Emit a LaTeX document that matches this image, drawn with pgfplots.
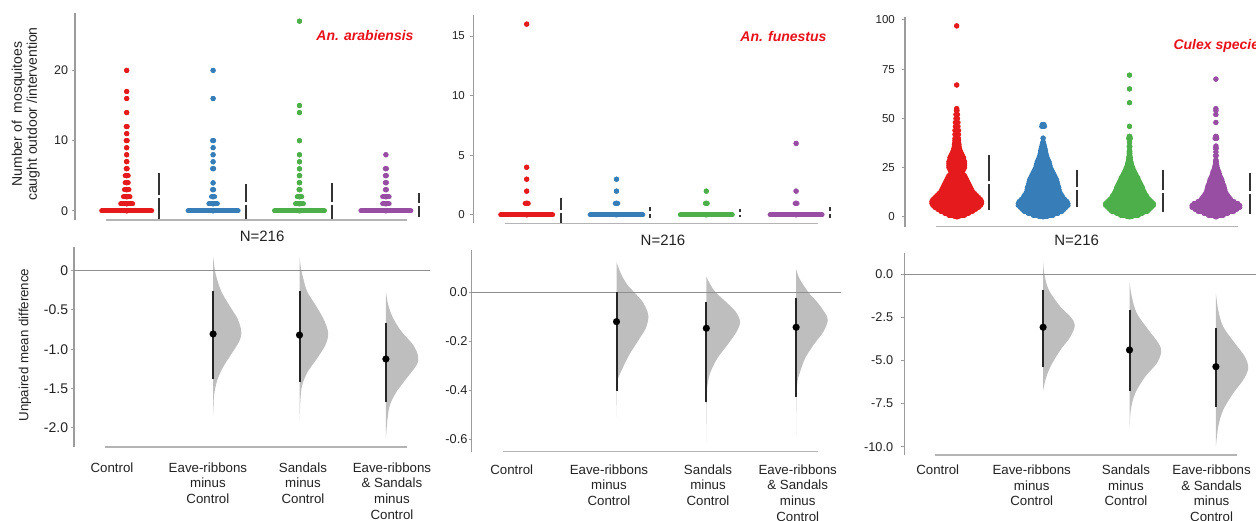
\documentclass[border=0pt]{standalone}
\usepackage{fontspec}
\setmainfont{Liberation Sans}
\usepackage{pgfplots}
\pgfplotsset{compat=1.18}
\usepackage{pgfplotstable}

\definecolor{cred}{HTML}{E41A1C}
\definecolor{cblue}{HTML}{377EB8}
\definecolor{cgreen}{HTML}{4DAF4A}
\definecolor{cpurple}{HTML}{984EA3}
\definecolor{violin}{HTML}{BEBEBE}
\definecolor{axisgray}{HTML}{9C9C9C}
\definecolor{linegray}{HTML}{B4B4B4}
\definecolor{zerogray}{HTML}{8E8E8E}
\definecolor{sdgray}{HTML}{333333}
\definecolor{titlered}{HTML}{E8111B}
\definecolor{txt}{HTML}{222222}

% ---------- swarm rows: value y, half-width w (px) ----------
\pgfplotstableread{
y w
0 25
1 6
2 3.3
3 2.3
4 1.6
5 1.6
6 0.6
7 0.3
8 0
9 0
10 0.6
11 0
12 0.6
14 0
16 0
17 0
20 0
}\sAr
\pgfplotstableread{
y w
0 25
1 4.3
2 1.6
3 0.6
4 0
6 0.6
7 0
8 0
9 0
10 0.6
16 0
20 0
}\sAb
\pgfplotstableread{
y w
0 25
1 4
2 2.3
3 0.6
4 0.3
5 0.3
6 0
7 0
8 0
10 0
14 0
15 0
27 0
}\sAg
\pgfplotstableread{
y w
0 25
1 3.3
2 3.3
3 0.6
4 0.6
5 0.6
6 0.6
8 0
}\sAp
\pgfplotstableread{
y w
0 26
1 1.6
2 0
3 0
4 0
16 0
}\sBr
\pgfplotstableread{
y w
0 26.3
1 1.3
2 0
3 0
}\sBb
\pgfplotstableread{
y w
0 26
1 1
2 0
}\sBg
\pgfplotstableread{
y w
0 26
1 1
2 0
6 0
}\sBp
\pgfplotstableread{
y w
0 2
1 8
2 12
3 16
4 19
5 22
6 24
7 25
8 25
9 24
10 22
11 20
12 18
13 16
14 15
15 14
16 13
17 12
18 11
19 10
20 9
21 8
22 6
23 6
24 7
25 8
26 8
27 8
28 8
29 7
30 7
31 6
32 5
33 4
34 3.5
35 3
36 2.5
37 2.5
38 2
39 2
40 2
42 2
44 2
46 1.5
48 1.5
50 1
52 1
54 0.5
55 0
67 0
97 0
}\sCr
\pgfplotstableread{
y w
0 4
1 10
2 15
3 19
4 21
5 23
6 25
7 25
8 24
9 22
10 20
11 19
12 17.5
13 16.5
14 16
15 15.8
16 15
17 14.5
18 14
19 13.5
20 12.5
21 11.5
22 10.5
23 9.5
24 8.5
25 7.5
26 7
27 6.5
28 6
29 5
30 4.2
31 3.5
32 3
33 2.5
34 2.5
35 2
36 1.5
37 1
38 0.5
40 0
46 1.5
47 1
}\sCb
\pgfplotstableread{
y w
0 2.5
1 9
2 13
3 18
4 20
5 22
6 24
7 24
8 22
9 20
10 18
11 17
12 15.5
13 14.5
14 13.5
15 13
16 12
17 11
18 10
19 9
20 8.3
21 7
22 6
23 5
24 4
25 3.3
26 2.5
27 2
28 1.5
29 1
30 1
31 0.5
32 0.5
33 0.5
34 0
36 0.5
38 0
40 1
41 0.5
46 0
58 0
65 0
72 0
}\sCg
\pgfplotstableread{
y w
0 1
1 7.5
2 12
3 18
4 21
5 24
6 24
7 22
8 18
9 15
10 13.5
11 12
12 10.5
13 9.5
14 9
15 8.5
16 8
17 7
18 6.5
19 6
20 5
21 4
22 3.5
23 3
24 2
25 1.5
26 1
27 0.5
28 0.5
29 0
31 0.5
33 0
35 0.5
36 0
40 1
41 0.5
48 0
52 0
54 0
55 0
70 0
}\sCp

% ---------- bootstrap distributions (half violins): y, width w (px) ----------
\pgfplotstableread{
y w
0.178 0
0.10 0.8
0.009 1.7
-0.097 3.7
-0.267 8.3
-0.437 16
-0.607 24.3
-0.734 27.7
-0.798 28.3
-0.904 26
-1.074 17.7
-1.244 9.3
-1.414 3.7
-1.583 1
-1.70 0.5
-1.838 0
}\vAa
\pgfplotstableread{
y w
0.178 0
0.009 1.7
-0.097 3.7
-0.267 7.7
-0.437 16
-0.607 23.7
-0.734 27.7
-0.819 28.7
-0.946 26
-1.116 17.7
-1.286 8.3
-1.456 2.7
-1.626 1
-1.75 0.5
-1.902 0
}\vAb
\pgfplotstableread{
y w
-0.267 0
-0.437 2.3
-0.607 7.3
-0.777 15.7
-0.946 27.3
-1.095 32.3
-1.201 30.7
-1.371 20.7
-1.541 10.7
-1.711 4
-1.880 1.7
-2.0 0.8
-2.135 0
}\vAc
\pgfplotstableread{
y w
0.125 0
0.112 1
0.071 5
0.030 11
0 17.7
-0.038 26
-0.079 31
-0.100 32
-0.147 29.3
-0.202 21
-0.256 12.7
-0.311 6
-0.352 1.7
-0.393 0.6
-0.45 0.3
-0.509 0
}\vBa
\pgfplotstableread{
y w
0.064 0
0.030 4.3
0 9.3
-0.038 19.3
-0.079 29.3
-0.120 33.7
-0.161 30.3
-0.216 21
-0.270 11
-0.325 4.3
-0.366 1.7
-0.407 0.7
-0.5 0.3
-0.611 0
}\vBb
\pgfplotstableread{
y w
0.095 0
0.057 3.3
0 12.3
-0.038 20.7
-0.079 28
-0.113 31.7
-0.161 27.3
-0.216 17.3
-0.270 9
-0.325 4
-0.366 1.3
-0.434 0.3
-0.584 0
}\vBc
\pgfplotstableread{
y w
0.73 0
0 1.3
-0.91 5.7
-1.88 17.3
-2.46 27.3
-2.94 31.7
-3.62 27.3
-4.39 17.3
-5.36 7.3
-6.13 2.3
-6.75 0
}\vCa
\pgfplotstableread{
y w
-0.43 0
-1.30 2.3
-2.26 7.3
-3.23 19
-4.00 29
-4.49 31.7
-5.16 27.3
-5.94 15.7
-6.90 5.7
-7.87 1.3
-9.03 0
}\vCb
\pgfplotstableread{
y w
-1.10 0
-2.07 2.3
-3.04 7.3
-4.00 19
-4.78 29
-5.45 32.3
-6.13 27.3
-6.90 17.3
-7.87 7.3
-8.84 2.3
-10.0 0
}\vCc

% ---------- mean differences with 95% CI ----------
\pgfplotstableread{
k m lo hi
1 -0.806 -1.380 -0.255
2 -0.820 -1.414 -0.255
3 -1.125 -1.669 -0.670
}\eA
\pgfplotstableread{
k m lo hi
1 -0.120 -0.404 0.000
2 -0.147 -0.447 -0.041
3 -0.143 -0.427 -0.025
}\eB
\pgfplotstableread{
k m lo hi
1 -3.07 -5.39 -0.91
2 -4.39 -6.75 -2.07
3 -5.36 -7.71 -3.13
}\eC

\pgfplotsset{
  base/.style={scale only axis, clip=false, enlargelimits=false,
    anchor=south west,
    /pgf/number format/assume math mode=true,
    axis x line*=bottom, axis y line*=left,
    x axis line style={draw=none},
    y axis line style={draw=axisgray, line width=1.3pt},
    tick align=outside, major tick length=3pt,
    ytick style={draw=axisgray, line width=1pt},
    xtick style={draw=none},
    tick label style={text=txt},
    yticklabel style={inner sep=0pt, anchor=east},
    xticklabel style={align=center, anchor=north, inner sep=0pt}},
  swarm/.style={only marks, mark=*, mark size=2.5pt, color=#1,
    mark options={solid, fill=#1, draw=#1, line width=0.01pt},
    error bars/.cd, x dir=both, x explicit, error mark=none,
    error bar style={line width=5pt, line cap=round, color=#1}},
  effect/.style={only marks, mark=*, mark size=3.5pt, color=black,
    mark options={solid, fill=black, draw=black, line width=0.01pt},
    error bars/.cd, y dir=both, y explicit, error mark=none,
    error bar style={line width=2pt, color=black!85}},
  sdbar/.style={sdgray, line width=2pt, unbounded coords=jump, mark=none},
  vio/.style={fill=violin, draw=none, smooth, tension=0.55, mark=none},
}
\newcommand{\fs}[2]{\fontsize{#1}{#2}\selectfont}
\def\labs{Control,{Eave-ribbons\\minus\\Control},{Sandals\\minus\\Control},{Eave-ribbons\\\& Sandals\\minus\\Control}}

\begin{document}
\begin{tikzpicture}[x=1pt,y=1pt]
\useasboundingbox (0,0) rectangle (1256,521);

% =================== column 1 : An. arabiensis ===================
\begin{axis}[base, at={(75pt,301pt)}, width=357pt, height=207pt,
  xmin=-0.5984, xmax=3.5336, ymin=-1.280, ymax=28.165,
  xtick=\empty, ytick={0,10,20}, yticklabels={0,10,20},
  yticklabel style={font=\fs{12.5}{14}, xshift=-3.7pt}]
\addplot[swarm=cred] table[x expr=0, y=y, x error expr=\thisrow{w}/86.4]{\sAr};
\addplot[swarm=cblue] table[x expr=1, y=y, x error expr=\thisrow{w}/86.4]{\sAb};
\addplot[swarm=cgreen] table[x expr=2, y=y, x error expr=\thisrow{w}/86.4]{\sAg};
\addplot[swarm=cpurple] table[x expr=3, y=y, x error expr=\thisrow{w}/86.4]{\sAp};
\addplot[sdbar] coordinates {(0.377,-1.28) (0.377,1.82) (0.377,nan) (0.377,2.24) (0.377,5.36) (0.377,nan)
  (1.377,-1.28) (1.377,0.79) (1.377,nan) (1.377,1.21) (1.377,3.84) (1.377,nan)
  (2.380,-1.28) (2.380,0.79) (2.380,nan) (2.380,1.21) (2.380,4.03) (2.380,nan)
  (3.383,-0.80) (3.383,0.69) (3.383,nan) (3.383,1.11) (3.383,2.50)};
\draw[linegray, line width=1.3pt] (axis cs:-0.240,-1.280) -- (axis cs:3.244,-1.280);
\node[anchor=east, text=titlered, font=\fs{14}{16}\bfseries\itshape] at (rel axis cs:0.958,0.889) {An. arabiensis};
\node[text=txt, font=\fs{15}{17}] at (rel axis cs:0.524,-0.077) {N=216};
\node[rotate=90, align=center, text=txt, font=\fs{14}{15}] at (rel axis cs:-0.138,0.512) {Number of~ mosquitoes\\caught outdoor /intervention};
\end{axis}

\begin{axis}[base, at={(74pt,74pt)}, width=358pt, height=200pt,
  xmin=-0.6100, xmax=3.5336, ymin=-2.2459, ymax=0.3019,
  xtick={-0.17,0.94,2.04,3.07}, xticklabels/.expanded=\labs,
  xticklabel style={font=\fs{13.3}{15.7}, yshift=-12.2pt},
  ytick={-2,-1.5,-1,-0.5,0}, yticklabels={-2.0,-1.5,-1.0,-0.5,0},
  yticklabel style={font=\fs{14}{16}, xshift=-2.7pt}]
\addplot[vio] table[x expr=1+\thisrow{w}/86.4, y=y]{\vAa};
\addplot[vio] table[x expr=2+\thisrow{w}/86.4, y=y]{\vAb};
\addplot[vio] table[x expr=3+\thisrow{w}/86.4, y=y]{\vAc};
\draw[zerogray, line width=1.3pt] (axis cs:-0.6100,0) -- (axis cs:3.510,0);
\addplot[effect] table[x=k, y=m, y error plus expr=\thisrow{hi}-\thisrow{m}, y error minus expr=\thisrow{m}-\thisrow{lo}]{\eA};
\draw[linegray, line width=1.3pt] (axis cs:-0.251,-2.2459) -- (axis cs:3.244,-2.2459);
\node[rotate=90, text=txt, font=\fs{13.3}{15}] at (rel axis cs:-0.1369,0.51) {Unpaired mean difference};
\end{axis}

% =================== column 2 : An. funestus ===================
\begin{axis}[base, at={(473.3pt,297.7pt)}, width=368.7pt, height=208.3pt,
  xmin=-0.5947, xmax=3.5111, ymin=-0.6957, ymax=16.764,
  xtick=\empty, ytick={0,5,10,15}, yticklabels={0,5,10,15},
  yticklabel style={font=\fs{11.5}{13}, xshift=-5.3pt}]
\addplot[swarm=cred] table[x expr=0, y=y, x error expr=\thisrow{w}/89.8]{\sBr};
\addplot[swarm=cblue] table[x expr=1, y=y, x error expr=\thisrow{w}/89.8]{\sBb};
\addplot[swarm=cgreen] table[x expr=2, y=y, x error expr=\thisrow{w}/89.8]{\sBg};
\addplot[swarm=cpurple] table[x expr=3, y=y, x error expr=\thisrow{w}/89.8]{\sBp};
\addplot[sdbar] coordinates {(0.379,-0.6957) (0.379,0.154) (0.379,nan) (0.379,0.406) (0.379,1.40) (0.379,nan)
  (1.373,-0.28) (1.373,0.064) (1.373,nan) (1.373,0.316) (1.373,0.65) (1.373,nan)
  (2.375,-0.19) (2.375,0.004) (2.375,nan) (2.375,0.256) (2.375,0.48) (2.375,nan)
  (3.378,-0.28) (3.378,0.064) (3.378,nan) (3.378,0.316) (3.378,0.65)};
\draw[linegray, line width=1.3pt] (axis cs:-0.242,-0.6957) -- (axis cs:3.244,-0.6957);
\node[anchor=east, text=titlered, font=\fs{14}{16}\bfseries\itshape] at (rel axis cs:0.9675,0.899) {An. funestus};
\node[text=txt, font=\fs{15}{17}] at (rel axis cs:0.5145,-0.080) {N=216};
\end{axis}

\begin{axis}[base, at={(471.7pt,69.3pt)}, width=370.3pt, height=201.7pt,
  xmin=-0.6125, xmax=3.5111, ymin=-0.6519, ymax=0.1730,
  xtick={-0.167,0.916,2.019,3.018}, xticklabels/.expanded=\labs,
  xticklabel style={font=\fs{13.3}{15.7}, yshift=-9.5pt},
  ytick={-0.6,-0.4,-0.2,0}, yticklabels={-0.6,-0.4,-0.2,0.0},
  yticklabel style={font=\fs{12.8}{15}, xshift=-1pt}]
\addplot[vio] table[x expr=1+\thisrow{w}/89.8, y=y]{\vBa};
\addplot[vio] table[x expr=2+\thisrow{w}/89.8, y=y]{\vBb};
\addplot[vio] table[x expr=3+\thisrow{w}/89.8, y=y]{\vBc};
\draw[zerogray, line width=1.3pt] (axis cs:-0.6125,0) -- (axis cs:3.497,0);
\addplot[effect] table[x=k, y=m, y error plus expr=\thisrow{hi}-\thisrow{m}, y error minus expr=\thisrow{m}-\thisrow{lo}]{\eB};
\draw[linegray, line width=1.3pt] (axis cs:-0.264,-0.6519) -- (axis cs:3.244,-0.6519);
\end{axis}

% =================== column 3 : Culex species ===================
\begin{axis}[base, at={(905pt,294.3pt)}, width=351pt, height=210pt,
  xmin=-0.5984, xmax=3.4641, ymin=-4.924, ymax=101.675,
  xtick=\empty, ytick={0,25,50,75,100}, yticklabels={0,25,50,75,100},
  yticklabel style={font=\fs{11.5}{13}, xshift=-7pt}]
\addplot[swarm=cred] table[x expr=0, y=y, x error expr=\thisrow{w}/86.4]{\sCr};
\addplot[swarm=cblue] table[x expr=1, y=y, x error expr=\thisrow{w}/86.4]{\sCb};
\addplot[swarm=cgreen] table[x expr=2, y=y, x error expr=\thisrow{w}/86.4]{\sCg};
\addplot[swarm=cpurple] table[x expr=3, y=y, x error expr=\thisrow{w}/86.4]{\sCp};
\addplot[sdbar] coordinates {(0.377,3.55) (0.377,16.64) (0.377,nan) (0.377,18.16) (0.377,31.5) (0.377,nan)
  (1.389,4.9) (1.389,13.84) (1.389,nan) (1.389,15.36) (1.389,23.9) (1.389,nan)
  (2.384,2.5) (2.384,12.14) (2.384,nan) (2.384,13.66) (2.384,23.9) (2.384,nan)
  (3.392,1.5) (3.392,11.54) (3.392,nan) (3.392,13.06) (3.392,22.5)};
\draw[linegray, line width=1.3pt] (axis cs:-0.240,-4.924) -- (axis cs:3.259,-4.924);
\node[anchor=west, text=titlered, font=\fs{14}{16}\bfseries\itshape] at (rel axis cs:0.755,0.860) {Culex species};
\node[text=txt, font=\fs{15}{17}] at (rel axis cs:0.489,-0.063) {N=216};
\end{axis}

\begin{axis}[base, at={(904.3pt,66pt)}, width=351.7pt, height=201.7pt,
  xmin=-0.6065, xmax=3.4641, ymin=-10.481, ymax=1.2181,
  xtick={-0.22,0.868,1.959,2.95}, xticklabels/.expanded=\labs,
  xticklabel style={font=\fs{13.3}{15.7}, yshift=-6.5pt},
  ytick={-10,-7.5,-5,-2.5,0}, yticklabels={-10.0,-7.5,-5.0,-2.5,0.0},
  yticklabel style={font=\fs{12.7}{15}, xshift=-8pt}]
\addplot[vio] table[x expr=1+\thisrow{w}/86.4, y=y]{\vCa};
\addplot[vio] table[x expr=2+\thisrow{w}/86.4, y=y]{\vCb};
\addplot[vio] table[x expr=3+\thisrow{w}/86.4, y=y]{\vCc};
\draw[zerogray, line width=1.3pt] (axis cs:-0.6065,0) -- (axis cs:3.4641,0);
\addplot[effect] table[x=k, y=m, y error plus expr=\thisrow{hi}-\thisrow{m}, y error minus expr=\thisrow{m}-\thisrow{lo}]{\eC};
\draw[linegray, line width=1.3pt] (axis cs:-0.251,-10.481) -- (axis cs:3.248,-10.481);
\end{axis}
\end{tikzpicture}
\end{document}
